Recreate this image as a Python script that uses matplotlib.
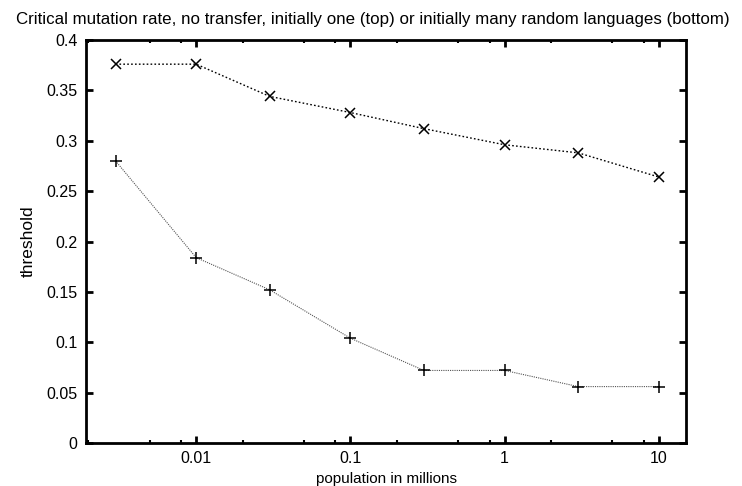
import numpy as np
from matplotlib import pyplot as plt
from matplotlib.ticker import FixedLocator, NullFormatter

plt.rcParams['font.family'] = ['Liberation Sans', 'DejaVu Sans']

# population sizes (millions) and critical mutation thresholds
population = [0.003, 0.01, 0.03, 0.1, 0.3, 1, 3, 10]
thr_one = [0.376, 0.376, 0.344, 0.328, 0.312, 0.296, 0.288, 0.264]
thr_many = [0.280, 0.184, 0.152, 0.104, 0.072, 0.072, 0.056, 0.056]

xticks = [0.01, 0.1, 1, 10]
xtick_labels = ['0.01', '0.1', '1', '10']
yticks = [0, 0.05, 0.1, 0.15, 0.2, 0.25, 0.3, 0.35, 0.4]
ytick_labels = ['0', '0.05', '0.1', '0.15', '0.2', '0.25', '0.3', '0.35', '0.4']

fig = plt.figure(figsize=(7.42, 4.86), dpi=100)
ax = fig.add_axes([86/742, 1-443/486, 600/742, 403/486])

ax.plot(population, thr_one, color='black', lw=1.0, ls=(0, (1.2, 1.6)),
        marker='x', ms=6.5, mew=1.1)
ax.plot(population, thr_many, color='#555555', lw=0.8, ls=(0, (1, 1)),
        marker='+', ms=8, mew=1.1, mec='black')

ax.set_xscale('log')
ax.set_xlim(0.00193, 15)
ax.set_ylim(0, 0.4)

ax.xaxis.set_major_locator(FixedLocator(xticks))
ax.set_xticklabels(xtick_labels)
minors = [m * 10.0**e for e in range(-3, 2) for m in (2, 5, 8)]
ax.xaxis.set_minor_locator(FixedLocator(minors))
ax.xaxis.set_minor_formatter(NullFormatter())
ax.set_yticks(yticks)
ax.set_yticklabels(ytick_labels)

ax.tick_params(which='major', direction='in', length=5, width=2,
               top=True, right=True, labelsize=11.5, pad=6)
ax.tick_params(which='minor', direction='in', length=2.5, width=1.5,
               top=True, right=False)
for s in ax.spines.values():
    s.set_linewidth(2)

ax.set_xlabel('population in millions', fontsize=11, labelpad=4)
ax.set_ylabel('threshold', fontsize=12.5, labelpad=8)
fig.text(0.503, 1-24/486, 'Critical mutation rate, no transfer, initially one (top) or initially many random languages (bottom)',
         ha='center', va='baseline', fontsize=12.2)

plt.savefig('out.png', dpi=100)
plt.close()
